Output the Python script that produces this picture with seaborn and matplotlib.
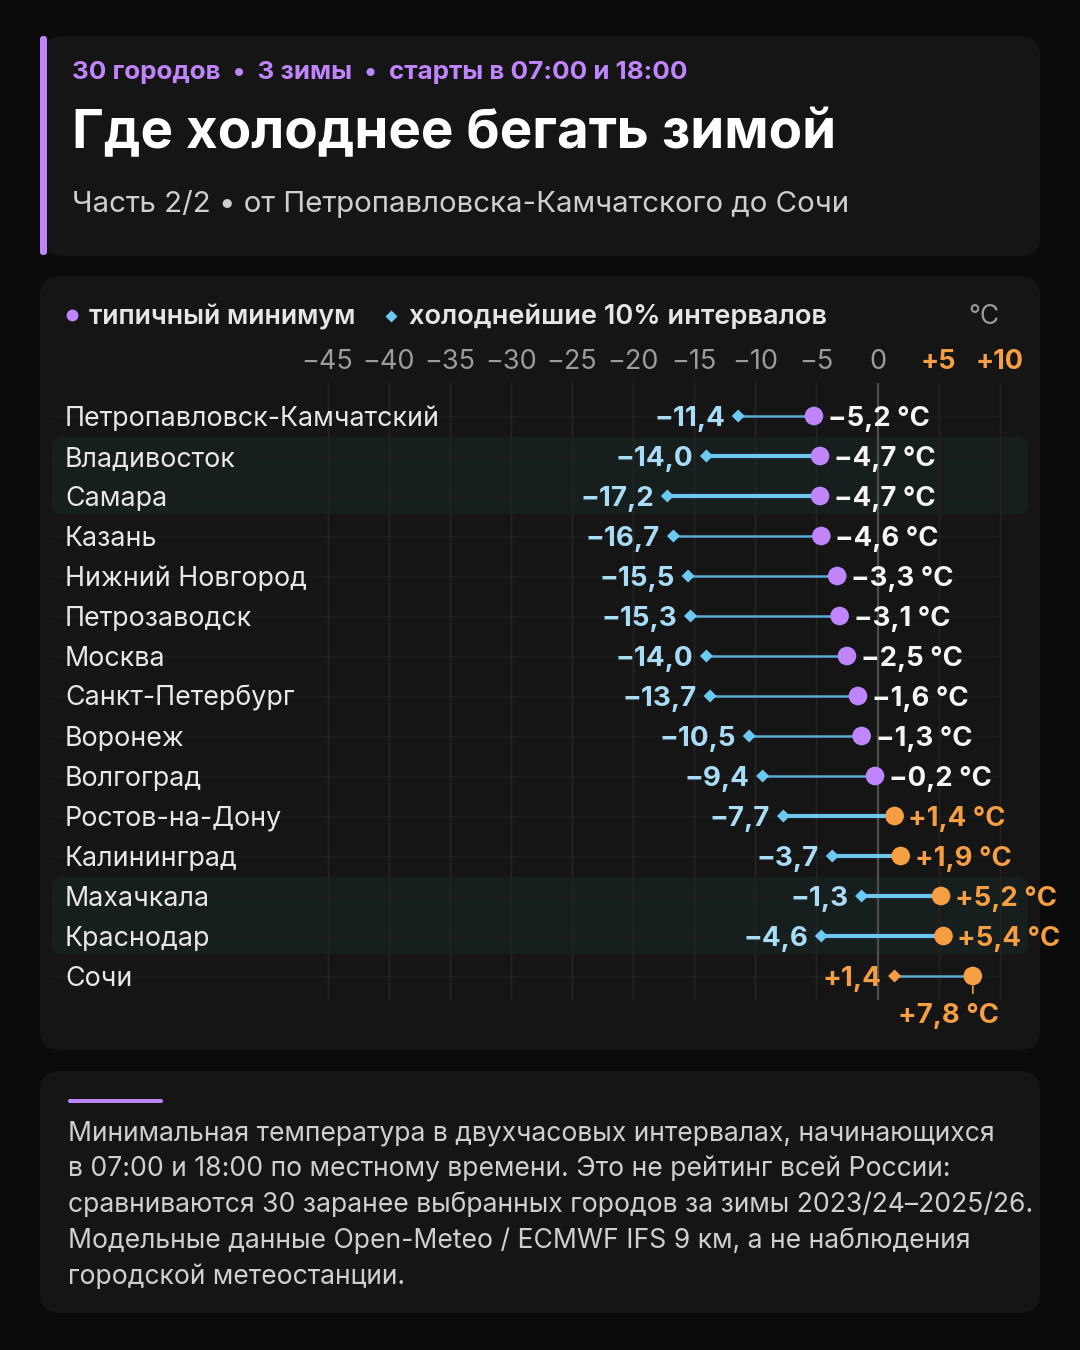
import pandas as pd
import seaborn as sns
import matplotlib.pyplot as plt
from matplotlib.patches import FancyBboxPatch

# Data
cities = ["Петропавловск-Камчатский", "Владивосток", "Самара", "Казань",
          "Нижний Новгород", "Петрозаводск", "Москва", "Санкт-Петербург",
          "Воронеж", "Волгоград", "Ростов-на-Дону", "Калининград",
          "Махачкала", "Краснодар", "Сочи"]
typical_min = [-5.2, -4.7, -4.7, -4.6, -3.3, -3.1, -2.5, -1.6, -1.3, -0.2,
               1.4, 1.9, 5.2, 5.4, 7.8]
coldest_10 = [-11.4, -14.0, -17.2, -16.7, -15.5, -15.3, -14.0, -13.7, -10.5,
              -9.4, -7.7, -3.7, -1.3, -4.6, 1.4]
x_ticks = [-45, -40, -35, -30, -25, -20, -15, -10, -5, 0, 5, 10]
highlight_groups = [["Владивосток", "Самара"], ["Махачкала", "Краснодар"]]

footer_lines = [
    "Минимальная температура в двухчасовых интервалах, начинающихся",
    "в 07:00 и 18:00 по местному времени. Это не рейтинг всей России:",
    "сравниваются 30 заранее выбранных городов за зимы 2023/24–2025/26.",
    "Модельные данные Open-Meteo / ECMWF IFS 9 км, а не наблюдения",
    "городской метеостанции.",
]

BG = "#0b0b0b"
CARD = "#151515"
BAND = "#171e1e"
PURPLE = "#c084fc"
ORANGE = "#f59e42"
BLUE = "#6cc9f3"
BLUE_TXT = "#a9dcf6"
LINE_BLUE = "#5aaad6"
LINE_BLUE_HI = "#6ec6ef"
WHITE = "#f5f5f5"
GREY = "#9c9c9c"


def fmt(v, unit=False, decimals=1):
    sign = "+" if v > 0 else ("−" if v < 0 else "")
    s = sign + f"{abs(v):.{decimals}f}".replace(".", ",")
    return s + " °C" if unit else s


df = pd.DataFrame({"city": cities, "typical": typical_min, "coldest": coldest_10})
df["row"] = range(len(df))
df["warm"] = df["typical"] > 0
df["cold_warm"] = df["coldest"] > 0
hl = {c for g in highlight_groups for c in g}
df["thick"] = df["city"].isin(hl) | ((df["coldest"] < 0) & (df["typical"] > 0))

sns.set_theme(style="dark")
plt.rcParams["font.family"] = ["Inter", "DejaVu Sans"]

fig = plt.figure(figsize=(10.8, 13.5), dpi=100, facecolor=BG)

# background layer in pixel coordinates
bg = fig.add_axes([0, 0, 1, 1], zorder=0)
bg.set_xlim(0, 1080)
bg.set_ylim(1350, 0)
bg.axis("off")


def card(x0, y0, x1, y1, color, r):
    bg.add_patch(FancyBboxPatch((x0 + r, y0 + r), x1 - x0 - 2 * r, y1 - y0 - 2 * r,
                                boxstyle=f"round,pad={r}", fc=color, ec="none", zorder=0))


card(43, 36, 1040, 256, CARD, 20)
card(40, 36, 47, 255, PURPLE, 3)
card(40, 276, 1040, 1050, CARD, 20)
card(40, 1071, 1040, 1313, CARD, 20)
card(68, 1099, 163, 1103, PURPLE, 2)

# header
bg.text(72, 79, "30 городов  •  3 зимы  •  старты в 07:00 и 18:00", color=PURPLE,
        fontsize=18.7, fontweight="bold", va="baseline")
bg.text(72, 148, "Где холоднее бегать зимой", color="white", fontsize=39.4,
        fontweight="bold", va="baseline")
bg.text(72, 212, "Часть 2/2 • от Петропавловска-Камчатского до Сочи",
        color="#cfcfcf", fontsize=21.2, va="baseline")

# legend
bg.plot([72], [315], "o", color=PURPLE, ms=8.5, mec="none")
bg.text(89, 324, "типичный минимум", color="#e6e6e6", fontsize=19.3,
        fontweight="semibold", va="baseline")
bg.plot([391], [316], "D", color=BLUE, ms=6.5, mec="none")
bg.text(409, 324, "холоднейшие 10% интервалов", color="#e6e6e6", fontsize=19.6,
        fontweight="semibold", va="baseline")
bg.text(1000, 324, "°C", color=GREY, fontsize=19, ha="right", va="baseline")

# footer
for i, line in enumerate(footer_lines):
    bg.text(68, 1140 + 36 * i, line, color="#cfcfcf", fontsize=19.1, va="baseline")

# main chart axes: 12.22 px per degree, zero at x=877.5 px
px_per_deg = 12.22
xmin, xmax = -67.6, 10.1
left_px = 877.5 + xmin * px_per_deg
width_px = (xmax - xmin) * px_per_deg
ax = fig.add_axes([left_px / 1080, (1350 - 1000) / 1350, width_px / 1080, 617 / 1350], zorder=2)
ax.patch.set_alpha(0)
ax.set_xlim(xmin, xmax)
ax.set_ylim(14.6, -0.825)
for s in ax.spines.values():
    s.set_visible(False)
ax.set_yticks([])
ax.set_xticks(x_ticks)
ax.xaxis.tick_top()
ax.tick_params(axis="x", length=0, pad=5.5)
ax.set_xticklabels([fmt(t, decimals=0) for t in x_ticks], fontsize=19.5)
for t, lab in zip(x_ticks, ax.get_xticklabels()):
    lab.set_color(ORANGE if t > 0 else GREY)
    if t > 0:
        lab.set_fontweight("bold")
ax.grid(axis="x", color="#262626", lw=1)
ax.grid(axis="y", visible=False)
for t, gl in zip(x_ticks, ax.get_xgridlines()):
    if t == 0:
        gl.set_color("#4d4d4d")
        gl.set_linewidth(1.6)
    elif t > 0:
        gl.set_color("#2b2319")
ax.set_axisbelow(True)

# highlight bands (drawn in the background layer, from data rows)
to_bg = ax.transData + bg.transData.inverted()
for group in highlight_groups:
    rows = df.loc[df["city"].isin(group), "row"]
    y0 = to_bg.transform((0, rows.min() - 0.48))[1]
    y1 = to_bg.transform((0, rows.max() + 0.46))[1]
    card(52, y0, 1028, y1, BAND, 10)

# faint row lines
ax.hlines(df["row"], xmin, xmax, colors="#1d1f1f", lw=1, zorder=0.5)

# connectors
for thick, sub in df.groupby("thick"):
    ax.hlines(sub["row"], sub["coldest"], sub["typical"],
              colors=LINE_BLUE_HI if thick else LINE_BLUE,
              lw=3 if thick else 1.8, zorder=2)

sns.scatterplot(data=df, x="coldest", y="row", hue="cold_warm", marker="D",
                palette={False: BLUE, True: ORANGE}, s=44, edgecolor="none",
                legend=False, ax=ax, zorder=3)
sns.scatterplot(data=df, x="typical", y="row", hue="warm",
                palette={False: PURPLE, True: ORANGE}, s=180, edgecolor="none",
                legend=False, ax=ax, zorder=4)
ax.set_xlabel("")
ax.set_ylabel("")

# city names and values
city_tr = ax.get_yaxis_transform()
name_x = (65 - left_px) / width_px
last = len(df) - 1
for _, r in df.iterrows():
    ax.annotate(r["city"], (name_x, r["row"]), xycoords=city_tr,
                xytext=(0, -7), textcoords="offset points", va="baseline",
                ha="left", color="#e8e8e8", fontsize=19.3, annotation_clip=False)
    ax.annotate(fmt(r["coldest"]), (r["coldest"], r["row"]), xytext=(-9.5, -7),
                textcoords="offset points", ha="right", va="baseline",
                color=ORANGE if r["coldest"] > 0 else BLUE_TXT,
                fontsize=20, fontweight="bold", annotation_clip=False)
    tcol = ORANGE if r["typical"] > 0 else WHITE
    if r["row"] == last:
        ax.annotate(fmt(r["typical"], unit=True), (r["typical"], r["row"]),
                    xytext=(-17.5, -34), textcoords="offset points", ha="center",
                    va="baseline", color=tcol, fontsize=19.8, fontweight="bold",
                    annotation_clip=False)
        ax.annotate("", (r["typical"], r["row"]), xytext=(0, -12.5),
                    textcoords="offset points", xycoords="data",
                    arrowprops=dict(arrowstyle="-", color=tcol, lw=1.2,
                                    shrinkA=0, shrinkB=7.3))
    else:
        ax.annotate(fmt(r["typical"], unit=True), (r["typical"], r["row"]),
                    xytext=(10, -7.5), textcoords="offset points", ha="left",
                    va="baseline", color=tcol, fontsize=19.8, fontweight="bold",
                    annotation_clip=False)

fig.savefig("out.png", dpi=100, facecolor=BG)
